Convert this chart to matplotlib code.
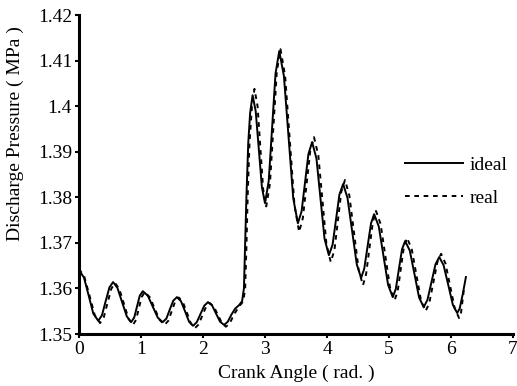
import matplotlib
matplotlib.use("Agg")
import matplotlib.pyplot as plt

plt.rcParams['font.family'] = ['Liberation Serif', 'DejaVu Serif']

# ideal (solid) curve
ideal_angle = [0.00, 0.08, 0.155, 0.23, 0.31, 0.37, 0.43, 0.49, 0.55,
               0.62, 0.695, 0.77, 0.84, 0.89, 0.935, 0.98, 1.03,
               1.11, 1.19, 1.27, 1.35, 1.41, 1.465, 1.52, 1.58,
               1.645, 1.71, 1.775, 1.84, 1.90, 1.96, 2.02, 2.08,
               2.145, 2.21, 2.275, 2.34, 2.40, 2.46, 2.52, 2.58, 2.63,
               2.66, 2.68, 2.70, 2.73, 2.76, 2.80,
               2.85, 2.90, 2.95, 3.00, 3.06, 3.115, 3.17, 3.23,
               3.305, 3.38, 3.455, 3.53, 3.59, 3.645, 3.70, 3.76,
               3.83, 3.895, 3.96, 4.03, 4.09, 4.145, 4.20, 4.26,
               4.33, 4.405, 4.48, 4.55, 4.60, 4.655, 4.71, 4.76,
               4.835, 4.91, 4.985, 5.06, 5.11, 5.16, 5.21, 5.26,
               5.335, 5.41, 5.485, 5.56, 5.62, 5.685, 5.75, 5.81,
               5.88, 5.955, 6.03, 6.10, 6.14, 6.19, 6.24]
ideal_p = [1.3640, 1.3624, 1.3585, 1.3545, 1.3529, 1.3541, 1.3572, 1.3602, 1.3614,
           1.3601, 1.3570, 1.3539, 1.3526, 1.3536, 1.3560, 1.3584, 1.3594,
           1.3584, 1.3560, 1.3536, 1.3526, 1.3534, 1.3554, 1.3573, 1.3581,
           1.3572, 1.3550, 1.3527, 1.3518, 1.3526, 1.3544, 1.3562, 1.3570,
           1.3563, 1.3545, 1.3527, 1.3520, 1.3527, 1.3543, 1.3556, 1.3563, 1.3572,
           1.3600, 1.3700, 1.3800, 1.3920, 1.3985, 1.4024,
           1.3989, 1.3906, 1.3822, 1.3787, 1.3836, 1.3954, 1.4072, 1.4121,
           1.4066, 1.3932, 1.3798, 1.3743, 1.3769, 1.3832, 1.3895, 1.3921,
           1.3885, 1.3797, 1.3709, 1.3673, 1.3696, 1.3751, 1.3806, 1.3829,
           1.3799, 1.3726, 1.3653, 1.3623, 1.3643, 1.3693, 1.3743, 1.3763,
           1.3736, 1.3672, 1.3608, 1.3581, 1.3599, 1.3643, 1.3686, 1.3704,
           1.3683, 1.3632, 1.3580, 1.3559, 1.3575, 1.3614, 1.3653, 1.3669,
           1.3651, 1.3608, 1.3564, 1.3546, 1.3556, 1.3588, 1.3625]

# real (dashed) curve
real_angle = [0.00, 0.085, 0.17, 0.255, 0.34, 0.40, 0.46, 0.52, 0.58,
              0.65, 0.725, 0.80, 0.87, 0.92, 0.965, 1.01, 1.06,
              1.14, 1.22, 1.30, 1.38, 1.44, 1.495, 1.55, 1.61,
              1.675, 1.74, 1.805, 1.87, 1.93, 1.99, 2.05, 2.11,
              2.175, 2.24, 2.305, 2.37, 2.43, 2.50, 2.58, 2.65,
              2.68, 2.70, 2.72, 2.75, 2.79, 2.83,
              2.88, 2.925, 2.97, 3.02, 3.08, 3.135, 3.19, 3.25,
              3.325, 3.40, 3.475, 3.55, 3.61, 3.67, 3.73, 3.79,
              3.86, 3.925, 3.99, 4.06, 4.12, 4.175, 4.23, 4.29,
              4.36, 4.435, 4.51, 4.58, 4.63, 4.685, 4.74, 4.79,
              4.865, 4.94, 5.015, 5.09, 5.14, 5.19, 5.24, 5.29,
              5.365, 5.44, 5.515, 5.59, 5.65, 5.715, 5.78, 5.84,
              5.91, 5.985, 6.06, 6.13, 6.16, 6.21]
real_p = [1.3643, 1.3626, 1.3584, 1.3541, 1.3524, 1.3537, 1.3568, 1.3599, 1.3612,
          1.3599, 1.3566, 1.3533, 1.3520, 1.3531, 1.3556, 1.3581, 1.3592,
          1.3581, 1.3556, 1.3531, 1.3520, 1.3529, 1.3550, 1.3571, 1.3580,
          1.3570, 1.3547, 1.3523, 1.3513, 1.3521, 1.3541, 1.3560, 1.3568,
          1.3560, 1.3542, 1.3524, 1.3516, 1.3523, 1.3543, 1.3560, 1.3572,
          1.3600, 1.3690, 1.3800, 1.3920, 1.4000, 1.4038,
          1.4000, 1.3909, 1.3818, 1.3780, 1.3830, 1.3953, 1.4075, 1.4125,
          1.4066, 1.3925, 1.3783, 1.3724, 1.3754, 1.3828, 1.3902, 1.3932,
          1.3892, 1.3795, 1.3698, 1.3658, 1.3684, 1.3748, 1.3812, 1.3838,
          1.3804, 1.3723, 1.3641, 1.3607, 1.3631, 1.3689, 1.3746, 1.3770,
          1.3741, 1.3672, 1.3603, 1.3574, 1.3594, 1.3643, 1.3691, 1.3711,
          1.3687, 1.3631, 1.3574, 1.3550, 1.3568, 1.3613, 1.3658, 1.3676,
          1.3655, 1.3606, 1.3556, 1.3535, 1.3545, 1.3600]

x_ticks = [0, 1, 2, 3, 4, 5, 6, 7]
y_ticks = [1.35, 1.36, 1.37, 1.38, 1.39, 1.40, 1.41, 1.42]
y_labels = ['1.35', '1.36', '1.37', '1.38', '1.39', '1.4', '1.41', '1.42']

fig = plt.figure(figsize=(5.17, 3.86), dpi=100)
ax = fig.add_axes([0.1528, 0.1347, 0.8395, 0.8264])

ax.plot(ideal_angle, ideal_p, color='black', lw=1.4, label='ideal')
ax.plot(real_angle, real_p, color='black', lw=1.4, ls=(0, (2.4, 2.4)), label='real')

ax.set_xlim(0, 7)
ax.set_ylim(1.35, 1.42)
ax.set_xticks(x_ticks)
ax.set_yticks(y_ticks)
ax.set_yticklabels(y_labels)
ax.tick_params(direction='out', length=3, width=1.5, labelsize=14, pad=2)

for s in ['top', 'right']:
    ax.spines[s].set_visible(False)
for s in ['left', 'bottom']:
    ax.spines[s].set_linewidth(2.2)

ax.set_xlabel('Crank Angle ( rad. )', fontsize=14)
ax.set_ylabel('Discharge Pressure ( MPa )', fontsize=14)
ax.xaxis.set_label_coords(0.5, -0.095)
ax.yaxis.set_label_coords(-0.127, 0.627)

ax.legend(loc='center left', bbox_to_anchor=(0.71, 0.478), frameon=False,
          fontsize=14, handlelength=3.0, handletextpad=0.36, labelspacing=0.8)

fig.savefig('out.png', dpi=100)
